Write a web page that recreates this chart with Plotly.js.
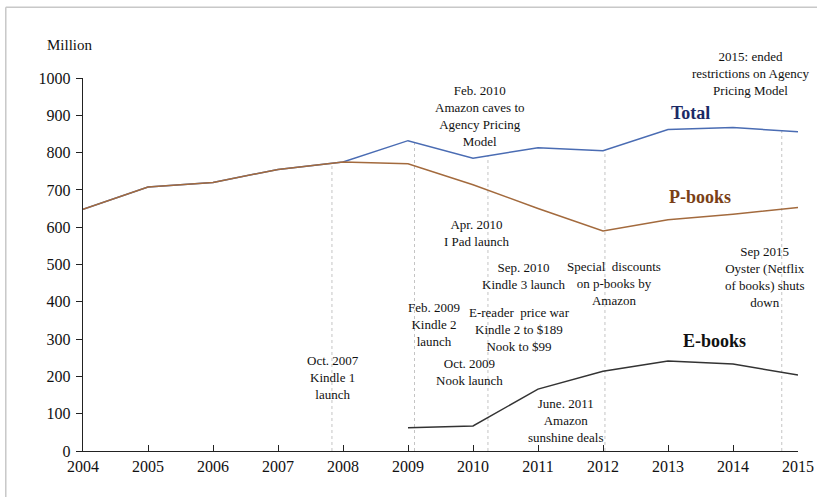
<!DOCTYPE html>
<html><head><meta charset="utf-8">
<script src="https://cdn.plot.ly/plotly-3.0.1.min.js"></script>
<style>body{margin:0;background:#fff}#c{width:817px;height:497px}</style>
</head><body><div id="c"></div>
<script>
var years = [2004,2005,2006,2007,2008,2009,2010,2011,2012,2013,2014,2015];
var total = [648,708,720,755,775,832,785,813,805,862,867,856];
var pbooks = [648,708,720,755,775,770,714,650,590,620,635,653];
var ebookYears = [2009,2010,2011,2012,2013,2014,2015];
var ebooks = [62,67,166,214,241,233,204];
var eventDates = [2007.83,2009.1,2010.23,2012.03,2014.75];
var eventTexts = [
  {x:2007.85,y:196,t:"Oct. 2007<br>Kindle 1<br>launch"},
  {x:2009.4,y:340,t:"Feb. 2009<br>Kindle 2<br>launch"},
  {x:2009.95,y:212,t:"Oct. 2009<br>Nook launch"},
  {x:2010.72,y:327,t:"E-reader  price war<br>Kindle 2 to $189<br>Nook to $99"},
  {x:2010.78,y:469,t:"Sep. 2010<br>Kindle 3 launch"},
  {x:2010.05,y:584,t:"Apr. 2010<br>I Pad launch"},
  {x:2010.11,y:898,t:"Feb. 2010<br>Amazon caves to<br>Agency Pricing<br>Model"},
  {x:2012.17,y:450,t:"Special  discounts<br>on p-books by<br>Amazon"},
  {x:2011.43,y:83,t:"June. 2011<br>Amazon<br>sunshine deals"},
  {x:2014.49,y:466,t:"Sep 2015<br>Oyster (Netflix<br>of books) shuts<br>down"}
];
function interp(x){
  for (var i=0;i<years.length-1;i++){
    if (x>=years[i] && x<=years[i+1]){
      var f=(x-years[i])/(years[i+1]-years[i]);
      return total[i]+f*(total[i+1]-total[i]);
    }
  }
  return total[total.length-1];
}
var font = "Liberation Serif";
var traces = [
  {x:years,y:total,mode:'lines',line:{color:'#4a6cb3',width:1.5},hoverinfo:'skip'},
  {x:years,y:pbooks,mode:'lines',line:{color:'#a36a3d',width:1.5},hoverinfo:'skip'},
  {x:ebookYears,y:ebooks,mode:'lines',line:{color:'#333333',width:1.5},hoverinfo:'skip'}
];
var shapes = eventDates.map(function(d){
  return {type:'line',xref:'x',yref:'y',x0:d,x1:d,y0:0,y1:interp(d),layer:'below',
    line:{color:'#c4c4c4',width:1,dash:'dot'}};
});
shapes.push({type:'line',xref:'paper',yref:'paper',x0:-0.108,x1:1.03,y0:1.19,y1:1.19,line:{color:'#c8c8c8',width:1.5}});
shapes.push({type:'line',xref:'paper',yref:'paper',x0:-0.108,x1:-0.108,y0:-0.2,y1:1.19,line:{color:'#c8c8c8',width:1.5}});
var annotations = eventTexts.map(function(e){
  return {x:e.x,y:e.y,xref:'x',yref:'y',text:e.t,showarrow:false,xanchor:'center',yanchor:'middle',
    font:{family:font,size:13,color:'#111'},align:'center'};
});
annotations.push({x:0.934,y:1.011,xref:'paper',yref:'paper',xanchor:'center',yanchor:'middle',text:"2015: ended<br>restrictions on Agency<br>Pricing Model",showarrow:false,font:{family:font,size:13,color:'#111'},align:'center'});
annotations.push({x:2013.34,y:906,xref:'x',yref:'y',xanchor:'center',yanchor:'middle',text:'<b>Total</b>',showarrow:false,font:{family:font,size:18,color:'#1c2a66'}});
annotations.push({x:2013.49,y:681,xref:'x',yref:'y',xanchor:'center',yanchor:'middle',text:'<b>P-books</b>',showarrow:false,font:{family:font,size:18,color:'#7a3f16'}});
annotations.push({x:2013.72,y:295,xref:'x',yref:'y',xanchor:'center',yanchor:'middle',text:'<b>E-books</b>',showarrow:false,font:{family:font,size:18,color:'#111'}});
annotations.push({x:-0.018,y:1.088,xref:'paper',yref:'paper',xanchor:'center',yanchor:'middle',text:'Million',showarrow:false,font:{family:font,size:15,color:'#111'}});
var layout = {
  width:817,height:497,margin:{l:83,r:19,t:78,b:46},
  font:{family:font,color:'#111'},
  paper_bgcolor:'#fff',plot_bgcolor:'#fff',showlegend:false,
  xaxis:{range:[2004,2015],tickmode:'array',tickvals:years,showgrid:false,zeroline:false,
    showline:true,linecolor:'#222',linewidth:1.3,ticks:'inside',ticklen:6,tickcolor:'#222',
    tickfont:{family:font,size:16,color:'#111'}},
  yaxis:{range:[0,1000],dtick:100,showgrid:false,zeroline:false,
    showline:true,linecolor:'#222',linewidth:1.3,ticks:'outside',ticklen:6,tickcolor:'#222',
    ticklabelstandoff:2,tickfont:{family:font,size:16,color:'#111'}},
  shapes:shapes,annotations:annotations
};
Plotly.newPlot('c',traces,layout,{displayModeBar:false,staticPlot:true});
</script></body></html>
